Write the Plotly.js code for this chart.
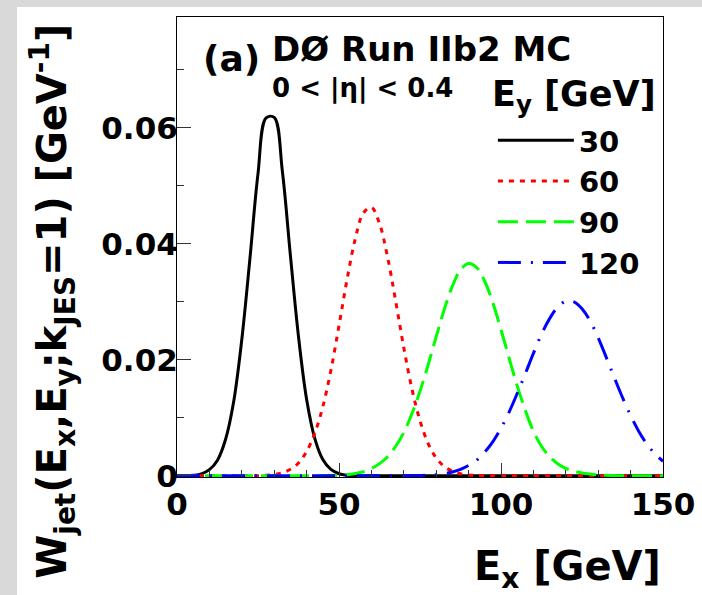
<!DOCTYPE html>
<html>
<head>
<meta charset="utf-8">
<script src="https://cdn.plot.ly/plotly-3.0.1.min.js"></script>
<style>
  html, body { margin: 0; padding: 0; }
  body { width: 702px; height: 595px; background: #d9d9d9; position: relative; overflow: hidden; }
  #plot { position: absolute; left: 17px; top: 7px; width: 685px; height: 588px; background: #ffffff; }
</style>
</head>
<body>
<div id="plot"></div>
<script>
// E_x grid [GeV]
const ex = [0,2.5,5,7.5,10,12.5,15,17.5,20,22.5,25,27.5,30,32.5,35,37.5,40,42.5,45,47.5,
            50,52.5,55,57.5,60,62.5,65,67.5,70,72.5,75,77.5,80,82.5,85,87.5,90,92.5,95,97.5,
            100,102.5,105,107.5,110,112.5,115,117.5,120,122.5,125,127.5,130,132.5,135,137.5,140,142.5,145,147.5,150];

// W_jet values [GeV^-1] for each E_y
const w30 = [0,0.00002,0.0001,0.00034,0.00107,0.0027,0.0063,0.0128,0.0235,0.0374,
             0.0521,0.0617,0.0618,0.0526,0.0380,0.0240,0.0132,0.0065,0.0028,0.0011,
             0.00036,0.0001,0.00003,0,0,0,0,0,0,0,
             0,0,0,0,0,0,0,0,0,0,
             0,0,0,0,0,0,0,0,0,0,
             0,0,0,0,0,0,0,0,0,0,0];
const w60 = [0,0,0,0,0,0,0,0,0,0,
             0.00003,0.0001,0.00023,0.00053,0.00113,0.0022,0.0042,0.0073,0.0119,0.0182,
             0.0259,0.0339,0.0408,0.0453,0.0463,0.0435,0.0377,0.0301,0.0221,0.0150,
             0.0095,0.0056,0.0031,0.0016,0.0008,0.00036,0.00016,0.00007,0.00003,0,
             0,0,0,0,0,0,0,0,0,0,
             0,0,0,0,0,0,0,0,0,0,0];
const w90 = [0,0,0,0,0,0,0,0,0,0,
             0,0,0,0,0,0,0,0,0.00003,0.00006,
             0.0001,0.0002,0.0004,0.0007,0.00125,0.0021,0.0033,0.0051,0.0075,0.0107,
             0.0146,0.0191,0.0240,0.0287,0.0327,0.0355,0.0366,0.0359,0.0335,0.0298,
             0.0252,0.0203,0.0155,0.0113,0.0077,0.0051,0.0033,0.0021,0.0013,0.0008,
             0.0005,0.0003,0.00015,0.0001,0.00005,0,0,0,0,0,0];
const w120 = [0,0,0,0,0,0,0,0,0,0,
              0,0,0,0,0,0,0,0,0,0,
              0,0,0,0,0,0,0,0,0.00001,0.00002,
              0.00006,0.00011,0.00021,0.00038,0.00066,0.0011,0.0018,0.0027,0.0041,0.0059,
              0.0082,0.0110,0.0142,0.0176,0.0211,0.0244,0.0271,0.0291,0.0301,0.0300,
              0.0288,0.0267,0.0238,0.0204,0.0169,0.0135,0.0104,0.0077,0.0055,0.0038,0.0025];

const seriesNames = ['30','60','90','120'];
const seriesValues = [w30, w60, w90, w120];
const seriesColors = ['#000000','#ff0000','#00ff00','#0000ff'];
const seriesDash = ['solid','5px,6px','20px,8px','23px,10px,2px,10px'];
const legendHeader = 'E<sub>y</sub> [GeV]';

const FONT = 'DejaVu Sans, Liberation Sans, Arial, sans-serif';

const traces = seriesNames.map((n, i) => ({
  type: 'scatter',
  mode: 'lines',
  x: ex,
  y: seriesValues[i],
  name: n,
  line: { color: seriesColors[i], width: 3, dash: seriesDash[i], shape: 'spline', smoothing: 1 },
  hoverinfo: 'skip'
}));

const layout = {
  width: 685,
  height: 588,
  margin: { l: 160, r: 39, t: 10, b: 118, pad: 0 },
  paper_bgcolor: '#ffffff',
  plot_bgcolor: '#ffffff',
  font: { family: FONT, weight: 'bold', color: '#000000', size: 30 },
  showlegend: true,
  xaxis: {
    range: [0, 150],
    dtick: 50,
    tick0: 0,
    ticks: 'inside',
    ticklen: 14,
    tickwidth: 1,
    tickcolor: '#333333',
    minor: { dtick: 10, ticks: 'inside', ticklen: 7, tickwidth: 1, tickcolor: '#333333' },
    showline: true,
    mirror: true,
    linecolor: '#000000',
    linewidth: 1,
    showgrid: false,
    zeroline: false,
    tickfont: { family: FONT, weight: 'bold', size: 31, color: '#000000' }
  },
  yaxis: {
    range: [-0.0002, 0.0791],
    dtick: 0.02,
    tick0: 0,
    ticks: 'inside',
    ticklen: 14,
    tickwidth: 1,
    tickcolor: '#333333',
    minor: { dtick: 0.01, ticks: 'inside', ticklen: 7, tickwidth: 1, tickcolor: '#333333' },
    showline: true,
    mirror: true,
    linecolor: '#000000',
    linewidth: 1,
    showgrid: false,
    zeroline: false,
    ticklabelstandoff: -8,
    tickfont: { family: FONT, weight: 'bold', size: 31, color: '#000000' }
  },
  legend: {
    x: 0.65,
    y: 0.787,
    xanchor: 'left',
    yanchor: 'top',
    bgcolor: 'rgba(0,0,0,0)',
    borderwidth: 0,
    itemwidth: 76,
    tracegroupgap: 0,
    font: { family: FONT, weight: 'bold', size: 29, color: '#000000' }
  },
  annotations: [
    { text: '(a)', xref: 'paper', yref: 'paper', x: 0.05, y: 0.909, xanchor: 'left', yanchor: 'middle',
      showarrow: false, font: { family: FONT, weight: 'bold', size: 36, color: '#000000' } },
    { text: 'DØ Run IIb2 MC', xref: 'paper', yref: 'paper', x: 0.192, y: 0.93, xanchor: 'left', yanchor: 'middle',
      showarrow: false, font: { family: FONT, weight: 'bold', size: 34, color: '#000000' } },
    { text: '0 < |η| < 0.4', xref: 'paper', yref: 'paper', x: 0.192, y: 0.8437, xanchor: 'left', yanchor: 'middle',
      showarrow: false, font: { family: FONT, weight: 'bold', size: 26, color: '#000000' } },
    { text: legendHeader, xref: 'paper', yref: 'paper', x: 0.644, y: 0.828, xanchor: 'left', yanchor: 'middle',
      showarrow: false, font: { family: FONT, weight: 'bold', size: 35, color: '#000000' } },
    { text: 'E<sub>x</sub> [GeV]', xref: 'paper', yref: 'paper', x: 1.0, y: -0.2, xanchor: 'right', yanchor: 'middle',
      showarrow: false, font: { family: FONT, weight: 'bold', size: 40, color: '#000000' } },
    { text: 'W<sub>jet</sub>(E<sub>x</sub>,E<sub>y</sub>;k<sub>JES</sub>=1) [GeV<sup>-1</sup>]', xref: 'paper', yref: 'paper',
      x: -0.257, y: 0.381, xanchor: 'center', yanchor: 'middle', textangle: -90,
      showarrow: false, font: { family: FONT, weight: 'bold', size: 40, color: '#000000' } }
  ]
};

Plotly.newPlot('plot', traces, layout, { displayModeBar: false, staticPlot: true });
</script>
</body>
</html>
